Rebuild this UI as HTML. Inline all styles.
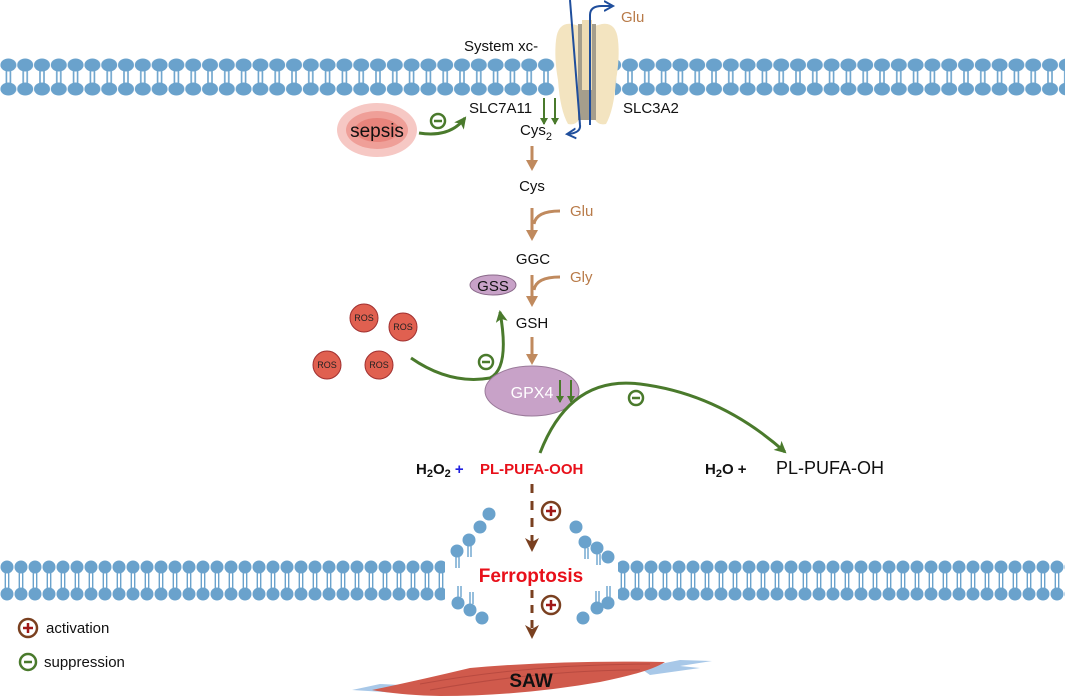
<!DOCTYPE html>
<html><head><meta charset="utf-8"><style>
html,body{margin:0;padding:0;background:#fff;}
svg{display:block;font-family:"Liberation Sans",Arial,sans-serif;}
</style></head><body>
<svg width="1065" height="697" viewBox="0 0 1065 697" xmlns="http://www.w3.org/2000/svg">
<defs>
<pattern id="m1" x="0" y="0" width="16.8" height="697" patternUnits="userSpaceOnUse">
<ellipse cx="8.4" cy="65" rx="8" ry="6.5" fill="#6aa2cc"/>
<ellipse cx="8.4" cy="89" rx="8" ry="6.5" fill="#6aa2cc"/>
<rect x="5.6" y="70" width="1.6" height="14" fill="#6aa2cc"/>
<rect x="9.6" y="70" width="1.6" height="14" fill="#6aa2cc"/>
</pattern>
<pattern id="m2" x="0" y="0" width="14" height="697" patternUnits="userSpaceOnUse">
<circle cx="7" cy="567" r="6.5" fill="#6aa2cc"/>
<circle cx="7" cy="594" r="6.5" fill="#6aa2cc"/>
<rect x="4.6" y="572" width="1.4" height="17" fill="#6aa2cc"/>
<rect x="8" y="572" width="1.4" height="17" fill="#6aa2cc"/>
</pattern>
<marker id="ab" markerWidth="14" markerHeight="14" refX="8" refY="6" orient="auto" markerUnits="userSpaceOnUse"><path d="M0,0 L11,6 L0,12 Z" fill="#c08a5e"/></marker>
<marker id="ag" markerWidth="14" markerHeight="12" refX="10" refY="6" orient="auto" markerUnits="userSpaceOnUse"><path d="M0,0 L12,6 L0,12 L3,6 Z" fill="#4a7a2c"/></marker>
<marker id="agS" markerWidth="8" markerHeight="8" refX="6" refY="4" orient="auto" markerUnits="userSpaceOnUse"><path d="M0,0 L7,4 L0,8 Z" fill="#4a7a2c"/></marker>
<marker id="abl" markerWidth="12" markerHeight="12" refX="8" refY="6" orient="auto" markerUnits="userSpaceOnUse"><path d="M0,1 L9,6 L0,11" fill="none" stroke="#1f4e9c" stroke-width="2"/></marker>
<marker id="adk" markerWidth="14" markerHeight="14" refX="7" refY="7" orient="auto" markerUnits="userSpaceOnUse"><path d="M0,0 L14,7 L0,14 L4,7 Z" fill="#7a4020"/></marker>
</defs>

<!-- top membrane -->
<rect x="0" y="50" width="555" height="50" fill="url(#m1)"/>
<rect x="615" y="50" width="450" height="50" fill="url(#m1)"/>

<!-- transporter -->
<path d="M556,40 Q558,22 572,24 L580,26 L580,118 Q576,126 568,124 Q560,110 558,80 Q554,58 556,40 Z" fill="#f3e4c0"/>
<path d="M618,40 Q616,22 602,24 L594,26 L594,118 Q598,126 606,124 Q614,110 616,80 Q620,58 618,40 Z" fill="#f3e4c0"/>
<rect x="578" y="24" width="18" height="96" fill="#a59e8c"/>
<rect x="582" y="20" width="10" height="70" fill="#eedcb4"/>
<path d="M570,0 L580,125 Q581,133 568,134" fill="none" stroke="#1f4e9c" stroke-width="2" marker-end="url(#abl)"/>
<path d="M590,125 L590,15 Q590,6 602,6 L612,6" fill="none" stroke="#1f4e9c" stroke-width="2" marker-end="url(#abl)"/>
<text x="621" y="22" font-size="15" fill="#b87a48">Glu</text>
<text x="464" y="51" font-size="15" fill="#111">System xc-</text>
<text x="469" y="113" font-size="15" fill="#111">SLC7A11</text>
<text x="623" y="113" font-size="15" fill="#111">SLC3A2</text>
<text x="520" y="135" font-size="15" fill="#111">Cys<tspan font-size="11" dy="5">2</tspan></text>
<line x1="544" y1="98" x2="544" y2="124" stroke="#4a7a2c" stroke-width="2" marker-end="url(#agS)"/>
<line x1="555" y1="98" x2="555" y2="124" stroke="#4a7a2c" stroke-width="2" marker-end="url(#agS)"/>

<!-- sepsis -->
<ellipse cx="377" cy="130" rx="40" ry="27" fill="#f6c8c4"/>
<ellipse cx="377" cy="130" rx="31" ry="19" fill="#ef9f98"/>
<ellipse cx="377" cy="130" rx="22" ry="12" fill="#e8847c"/>
<text x="377" y="137" font-size="19" fill="#111" text-anchor="middle">sepsis</text>
<path d="M419,133 Q450,138 465,118" fill="none" stroke="#4a7a2c" stroke-width="3" marker-end="url(#ag)"/>
<circle cx="438" cy="121" r="7" fill="none" stroke="#4a7a2c" stroke-width="2.5"/>
<line x1="434" y1="121" x2="442" y2="121" stroke="#4a7a2c" stroke-width="2.5"/>

<!-- pathway -->
<line x1="532" y1="146" x2="532" y2="168" stroke="#c08a5e" stroke-width="3" marker-end="url(#ab)"/>
<text x="532" y="191" font-size="15" fill="#111" text-anchor="middle">Cys</text>
<line x1="532" y1="208" x2="532" y2="238" stroke="#c08a5e" stroke-width="3" marker-end="url(#ab)"/>
<path d="M560,211 Q536,211 534,224" fill="none" stroke="#c08a5e" stroke-width="3"/>
<text x="570" y="216" font-size="15" fill="#b87a48">Glu</text>
<text x="533" y="264" font-size="15" fill="#111" text-anchor="middle">GGC</text>
<line x1="532" y1="275" x2="532" y2="304" stroke="#c08a5e" stroke-width="3" marker-end="url(#ab)"/>
<path d="M560,277 Q536,277 534,290" fill="none" stroke="#c08a5e" stroke-width="3"/>
<text x="570" y="282" font-size="15" fill="#b87a48">Gly</text>
<ellipse cx="493" cy="285" rx="23" ry="10" fill="#c8a2c8" stroke="#8a6a8a" stroke-width="1"/>
<text x="493" y="291" font-size="15" fill="#111" text-anchor="middle">GSS</text>
<text x="532" y="328" font-size="15" fill="#111" text-anchor="middle">GSH</text>
<line x1="532" y1="337" x2="532" y2="362" stroke="#c08a5e" stroke-width="3" marker-end="url(#ab)"/>

<!-- ROS -->
<g fill="#e06050" stroke="#a03030" stroke-width="1">
<circle cx="364" cy="318" r="14"/><circle cx="403" cy="327" r="14"/>
<circle cx="327" cy="365" r="14"/><circle cx="379" cy="365" r="14"/>
</g>
<g font-size="9" fill="#222" text-anchor="middle">
<text x="364" y="321">ROS</text><text x="403" y="330">ROS</text>
<text x="327" y="368">ROS</text><text x="379" y="368">ROS</text>
</g>
<path d="M411,358 Q450,385 490,378 Q510,368 500,312" fill="none" stroke="#4a7a2c" stroke-width="3" marker-end="url(#ag)"/>
<circle cx="486" cy="362" r="7" fill="none" stroke="#4a7a2c" stroke-width="2.5"/>
<line x1="482" y1="362" x2="490" y2="362" stroke="#4a7a2c" stroke-width="2.5"/>

<!-- GPX4 -->
<ellipse cx="532" cy="391" rx="47" ry="25" fill="#c8a2c8" stroke="#9a7a9a" stroke-width="1"/>
<text x="532" y="398" font-size="16" fill="#fff" text-anchor="middle">GPX4</text>
<line x1="560" y1="380" x2="560" y2="402" stroke="#4a7a2c" stroke-width="2" marker-end="url(#agS)"/>
<line x1="571" y1="380" x2="571" y2="402" stroke="#4a7a2c" stroke-width="2" marker-end="url(#agS)"/>
<path d="M540,453 Q570,375 640,384 Q720,394 785,452" fill="none" stroke="#4a7a2c" stroke-width="3" marker-end="url(#ag)"/>
<circle cx="636" cy="398" r="7" fill="none" stroke="#4a7a2c" stroke-width="2.5"/>
<line x1="632" y1="398" x2="640" y2="398" stroke="#4a7a2c" stroke-width="2.5"/>

<text x="416" y="474" font-size="15" font-weight="bold" fill="#111">H<tspan font-size="11" dy="3">2</tspan><tspan dy="-3">O</tspan><tspan font-size="11" dy="3">2</tspan><tspan dy="-3" fill="#2020e0"> +</tspan></text>
<text x="480" y="474" font-size="15" font-weight="bold" fill="#e8101a">PL-PUFA-OOH</text>
<text x="705" y="474" font-size="15" font-weight="bold" fill="#111">H<tspan font-size="11" dy="3">2</tspan><tspan dy="-3">O  +</tspan></text>
<text x="776" y="474" font-size="18" fill="#111">PL-PUFA-OH</text>

<!-- bottom membrane -->
<rect x="0" y="555" width="445" height="50" fill="url(#m2)"/>
<rect x="618" y="555" width="447" height="50" fill="url(#m2)"/>
<g fill="#6aa2cc">
<circle cx="457" cy="551" r="6.5"/><circle cx="469" cy="540" r="6.5"/><circle cx="480" cy="527" r="6.5"/><circle cx="489" cy="514" r="6.5"/>
<circle cx="458" cy="603" r="6.5"/><circle cx="470" cy="610" r="6.5"/><circle cx="482" cy="618" r="6.5"/>
<circle cx="576" cy="527" r="6.5"/><circle cx="585" cy="542" r="6.5"/><circle cx="597" cy="548" r="6.5"/><circle cx="608" cy="557" r="6.5"/>
<circle cx="583" cy="618" r="6.5"/><circle cx="597" cy="608" r="6.5"/><circle cx="608" cy="603" r="6.5"/>
</g>
<g stroke="#6aa2cc" stroke-width="1.4">
<line x1="456" y1="557" x2="456" y2="568"/><line x1="459" y1="557" x2="459" y2="568"/>
<line x1="468" y1="546" x2="468" y2="557"/><line x1="471" y1="546" x2="471" y2="557"/>
<line x1="585" y1="548" x2="585" y2="559"/><line x1="588" y1="548" x2="588" y2="559"/>
<line x1="597" y1="554" x2="597" y2="565"/><line x1="600" y1="554" x2="600" y2="565"/>
<line x1="458" y1="586" x2="458" y2="597"/><line x1="461" y1="586" x2="461" y2="597"/>
<line x1="470" y1="592" x2="470" y2="604"/><line x1="473" y1="592" x2="473" y2="604"/>
<line x1="596" y1="591" x2="596" y2="602"/><line x1="599" y1="591" x2="599" y2="602"/>
<line x1="607" y1="586" x2="607" y2="597"/><line x1="610" y1="586" x2="610" y2="597"/>
</g>

<!-- ferroptosis -->
<line x1="532" y1="484" x2="532" y2="545" stroke="#7a4020" stroke-width="3" stroke-dasharray="9,8" marker-end="url(#adk)"/>
<circle cx="551" cy="511" r="9" fill="none" stroke="#7a4020" stroke-width="2.5"/>
<line x1="546" y1="511" x2="556" y2="511" stroke="#a01818" stroke-width="2.5"/><line x1="551" y1="506" x2="551" y2="516" stroke="#a01818" stroke-width="2.5"/>
<text x="531" y="582" font-size="19" font-weight="bold" fill="#e8101a" text-anchor="middle">Ferroptosis</text>
<line x1="532" y1="590" x2="532" y2="632" stroke="#7a4020" stroke-width="3" stroke-dasharray="8,7" marker-end="url(#adk)"/>
<circle cx="551" cy="605" r="9" fill="none" stroke="#7a4020" stroke-width="2.5"/>
<line x1="546" y1="605" x2="556" y2="605" stroke="#a01818" stroke-width="2.5"/><line x1="551" y1="600" x2="551" y2="610" stroke="#a01818" stroke-width="2.5"/>

<!-- SAW muscle -->
<path d="M352,690 L380,684 L420,686 L400,693 Z" fill="#a8c8e8"/>
<path d="M640,668 L680,660 L712,661 L680,666 L700,668 L650,675 Z" fill="#a8c8e8"/>
<path d="M372,690 Q420,680 470,668 Q560,660 665,662 Q650,672 600,682 Q520,696 440,696 Q400,695 372,690 Z" fill="#d05a4c"/>
<path d="M420,684 Q530,664 650,664 M430,690 Q540,670 640,670" fill="none" stroke="#b84a40" stroke-width="1"/>
<text x="531" y="687" font-size="19" font-weight="bold" fill="#111" text-anchor="middle">SAW</text>

<!-- legend -->
<circle cx="28" cy="628" r="9" fill="none" stroke="#7a4020" stroke-width="2.5"/>
<line x1="23" y1="628" x2="33" y2="628" stroke="#a01818" stroke-width="2.5"/><line x1="28" y1="623" x2="28" y2="633" stroke="#a01818" stroke-width="2.5"/>
<text x="46" y="633" font-size="15" fill="#111">activation</text>
<circle cx="28" cy="662" r="8" fill="none" stroke="#4a7a2c" stroke-width="2.5"/>
<line x1="24" y1="662" x2="32" y2="662" stroke="#4a7a2c" stroke-width="2.5"/>
<text x="44" y="667" font-size="15" fill="#111">suppression</text>
</svg>
</body></html>
